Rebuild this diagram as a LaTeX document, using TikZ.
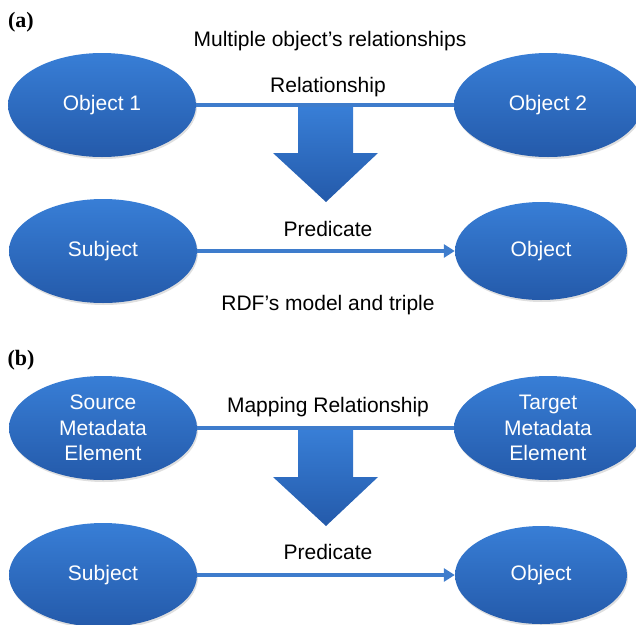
\documentclass[tikz,border=0pt]{standalone}
\usepackage{fontspec}
\setmainfont{Liberation Serif}
\setsansfont{Liberation Sans}
\usetikzlibrary{shapes.geometric}
\usetikzlibrary{shadows}
\usetikzlibrary{arrows.meta}
\usetikzlibrary{positioning}
\definecolor{blobtop}{RGB}{56,126,214}
\definecolor{blobbot}{RGB}{36,90,170}
\definecolor{linkblue}{RGB}{62,124,204}
\tikzset{x=1pt, y=-1pt,
blob/.style={
ellipse,
minimum width=188pt,
minimum height=104pt,
inner sep=0pt,
top color=blobtop,
bottom color=blobbot,
text=white,
align=center,
font=\sffamily\fontsize{21}{25.5}\selectfont,
drop shadow={shadow xshift=1pt, shadow yshift=-2pt, opacity=0.25}},
small blob/.style={blob,
minimum width=172pt,
minimum height=98pt},
caption/.style={
font=\sffamily\fontsize{21}{24}\selectfont},
panel/.style={
font=\bfseries\fontsize{22}{24}\selectfont},
link/.style={
draw=linkblue,
line width=4pt},
big arrow/.style={
top color=blobtop,
bottom color=blobbot}}

\begin{document}
\begin{tikzpicture}
\useasboundingbox (0,0) rectangle (636,624);
\node[panel] (a) at (21,22) {(a)};
\node[caption] (title) at (330,41) {Multiple object's relationships};
\node[blob] (o1) at (102,105) {Object 1};
\node[blob] (o2) at (548,105) {Object 2};
\node[caption] (rel) at (328,87) {Relationship};
\node[blob] (subj) at (103,251) {Subject};
\node[small blob] (obj) at (541,251) {Object};
\node[caption] (pred) at (328,229) {Predicate};
\node[caption] (rdf) at (328,305) {RDF's model and triple};
\draw[link] (o1) -- (o2);
\draw[link, -{Triangle[length=11pt, width=13pt]}] (subj) -- (obj);
\shade[big arrow] (298,107) -- (353,107) -- (353,153) -- (378,153) -- (326,202) -- (273,153) -- (298,153) -- cycle;
\node[panel] (b) at (21,360) {(b)};
\node[blob] (src) at (103,428) {Source\\Metadata\\Element};
\node[blob] (tgt) at (548,428) {Target\\Metadata\\Element};
\node[caption] (map) at (328,407) {Mapping Relationship};
\node[blob] (subj2) at (103,575) {Subject};
\node[small blob] (obj2) at (541,575) {Object};
\node[caption] (pred2) at (328,552) {Predicate};
\draw[link] (src) -- (tgt);
\draw[link, -{Triangle[length=11pt, width=13pt]}] (subj2) -- (obj2);
\shade[big arrow] (298,430) -- (353,430) -- (353,477) -- (378,477) -- (326,526) -- (273,477) -- (298,477) -- cycle;
\end{tikzpicture}
\end{document}
